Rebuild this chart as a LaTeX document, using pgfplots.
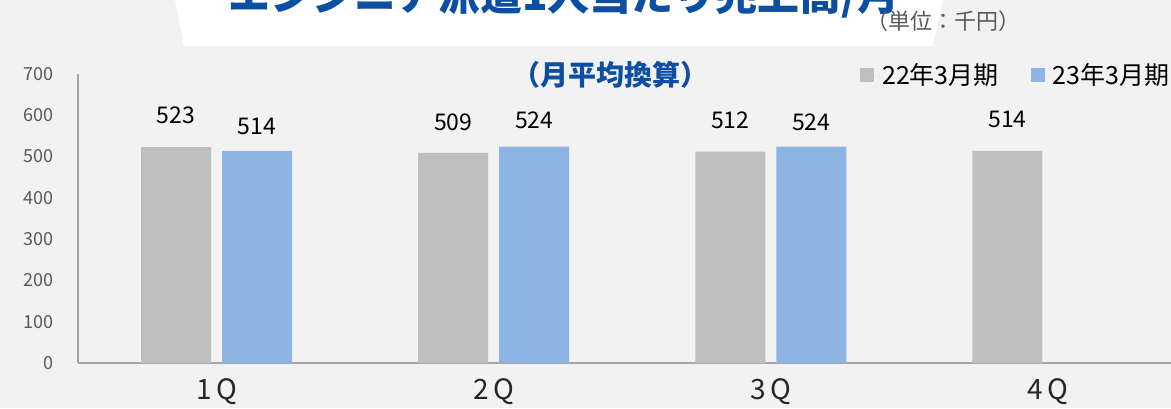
\documentclass[border=0pt]{standalone}
\usepackage{fontspec}
\usepackage{pgfplots}
\usepackage{pgfplotstable}
\pgfplotsset{compat=1.18}
\setmainfont{Noto Sans CJK JP}
\definecolor{bg}{HTML}{F2F2F2}
\definecolor{bargray}{HTML}{BFBFBF}
\definecolor{barblue}{HTML}{8EB4E3}
\definecolor{ttlblue}{HTML}{0B4EA2}
\definecolor{ticktxt}{HTML}{595959}
\definecolor{axln}{HTML}{A6A6A6}
\pgfplotstableread{
x y dy
0 523 32
1 509 31
2 512 31
3 514 31
}\prevtab
\pgfplotstableread{
x y dy
0 514 24.5
1 524 26
2 524 24.5
}\currtab
\begin{document}
\begin{tikzpicture}
\useasboundingbox (0,0) rectangle (1171pt,408pt);
\fill[bg] (0,0) rectangle (1171pt,408pt);
\clip (0,0) rectangle (1171pt,408pt);
\fill[white] (175pt,408pt) -- (943pt,408pt) -- (933pt,362pt) -- (184pt,362pt) -- cycle;
\node[anchor=base west, inner sep=0, text=ttlblue, font=\fontsize{42}{42}\selectfont\bfseries] at (228pt,397pt) {エンジニア派遣1人当たり売上高/月};
\node[anchor=center, inner sep=0, text=ticktxt, font=\fontsize{22}{22}\selectfont] at (943pt,387pt) {（単位：千円）};
\node[anchor=center, inner sep=0, text=ttlblue, font=\fontsize{28}{28}\selectfont\bfseries] at (610pt,333pt) {（月平均換算）};
\begin{axis}[
  at={(78pt,45pt)}, anchor=south west,
  scale only axis, width=1108.5pt, height=289pt,
  xmin=-0.5, xmax=3.5, ymin=0, ymax=700,
  axis lines*=left,
  axis line style={draw=axln, line width=1.2pt},
  major tick length=0pt,
  ytick={0,100,...,700},
  xtick={0,1,2,3},
  xticklabels={1\,Q,2\,Q,3\,Q,4\,Q},
  /pgf/number format/assume math mode=true,
  yticklabel style={text=ticktxt, font=\fontsize{18}{18}\selectfont, xshift=-21pt},
  xticklabel style={text=black!85, font=\fontsize{28}{28}\selectfont, yshift=-12pt},
  ybar=11pt, bar width=70pt,
  nodes near coords,
  visualization depends on={\thisrow{dy} \as \dy},
  every node near coord/.append style={font=\fontsize{23}{23}\selectfont, text=black, anchor=center, yshift=\dy pt},
  legend style={at={(0.7028,0.9965)}, anchor=west, draw=none, fill=none,
    font=\fontsize{25}{25}\selectfont, legend columns=2,
    /tikz/every even column/.append style={column sep=30pt}},
  legend image code/.code={\path (0pt,0pt) -- (20pt,0pt); \fill[#1] (0pt,-7pt) rectangle (14pt,7pt);},
]
\addplot[fill=bargray, draw=none] table[x=x,y=y] {\prevtab};
\addplot[fill=barblue, draw=none] table[x=x,y=y] {\currtab};
\legend{22年3月期,23年3月期}
\end{axis}
\end{tikzpicture}
\end{document}
